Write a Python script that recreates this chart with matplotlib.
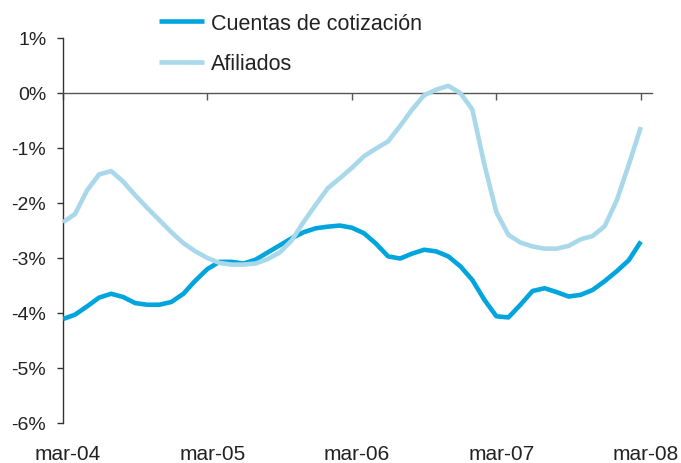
import matplotlib
matplotlib.use("Agg")
import matplotlib.pyplot as plt
import matplotlib.transforms as mtransforms
import numpy as np

plt.rcParams['font.family'] = ['Liberation Sans', 'DejaVu Sans']

# Monthly data, mar-04 .. mar-08 (49 months), % year-on-year
months = list(range(49))
cuentas = [-4.11, -4.03, -3.88, -3.72, -3.65, -3.71, -3.82, -3.85, -3.85, -3.80,
           -3.65, -3.41, -3.20, -3.07, -3.07, -3.10, -3.03, -2.90, -2.77, -2.64,
           -2.53, -2.46, -2.43, -2.41, -2.45, -2.55, -2.74, -2.97, -3.01, -2.92,
           -2.85, -2.88, -2.97, -3.15, -3.40, -3.76, -4.06, -4.08, -3.85, -3.60,
           -3.55, -3.62, -3.70, -3.67, -3.58, -3.42, -3.24, -3.04, -2.70]
afiliados = [-2.35, -2.20, -1.77, -1.48, -1.42, -1.61, -1.86, -2.09, -2.31, -2.53,
             -2.73, -2.88, -3.00, -3.09, -3.12, -3.12, -3.10, -3.02, -2.90, -2.68,
             -2.34, -2.03, -1.73, -1.55, -1.36, -1.15, -1.01, -0.88, -0.60, -0.30,
             -0.04, 0.06, 0.13, 0.00, -0.30, -1.30, -2.17, -2.58, -2.72, -2.79,
             -2.83, -2.83, -2.78, -2.66, -2.60, -2.42, -1.95, -1.30, -0.62]
series_names = ["Cuentas de cotización", "Afiliados"]
xtick_pos = [0, 12, 24, 36, 48]
xtick_labels = ["mar-04", "mar-05", "mar-06", "mar-07", "mar-08"]
ytick_vals = [1, 0, -1, -2, -3, -4, -5, -6]

c_dark = "#00a5dd"
c_light = "#a8d8ea"
txt = "#222222"

fig = plt.figure(figsize=(6.81, 4.64), dpi=100)
ax = fig.add_axes([63/681, 1 - 424/464, (651.7 - 63)/681, (424 - 39)/464])

l1, = ax.plot(months, cuentas, color=c_dark, lw=3.3, solid_capstyle='butt',
              solid_joinstyle='round', zorder=3)
l2, = ax.plot(months, afiliados, color=c_light, lw=3.3, solid_capstyle='butt',
              solid_joinstyle='round', zorder=4)

ax.set_xlim(0, 48.9)
ax.set_ylim(-6, 1)

for s in ['top', 'right']:
    ax.spines[s].set_visible(False)
ax.spines['left'].set_color('#333333')
ax.spines['left'].set_linewidth(1.0)
ax.spines['bottom'].set_position(('data', 0))
ax.spines['bottom'].set_color('#555555')
ax.spines['bottom'].set_linewidth(1.0)

ax.set_yticks(ytick_vals)
ax.set_yticklabels([f"{v}%" for v in ytick_vals])
ax.tick_params(axis='y', direction='out', length=4, width=1, color='#333333',
               labelsize=14, labelcolor=txt, pad=8)
ax.set_xticks(xtick_pos)
ax.tick_params(axis='x', direction='out', length=5, width=1, color='#555555',
               labelbottom=False)

offset = mtransforms.ScaledTranslation(5/100, 0, fig.dpi_scale_trans)
trans = mtransforms.blended_transform_factory(ax.transData, ax.transAxes) + offset
for p, lab in zip(xtick_pos, xtick_labels):
    ax.text(p, -0.08, lab, transform=trans, ha='center', va='center',
            fontsize=15, color=txt)

fig.legend([l1, l2], series_names, loc='upper left',
           bbox_to_anchor=(159/681, 0.970), frameon=False, fontsize=15.5,
           handlelength=2.1, handletextpad=0.3, labelspacing=0.9,
           borderpad=0, borderaxespad=0, labelcolor=txt)

fig.savefig("out.png", dpi=100)
